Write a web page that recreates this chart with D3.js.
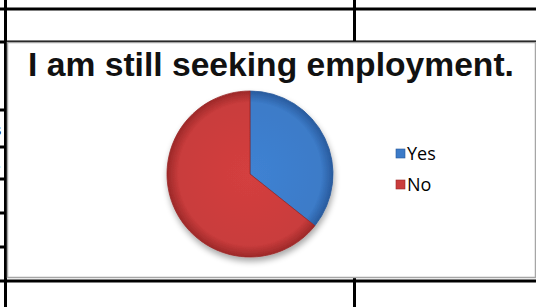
<!DOCTYPE html>
<html>
  <head>
    <title>Seeking employment</title>
    <script src="https://d3js.org/d3.v7.min.js"></script>
    <style>
      body { margin: 0; background: #fff; }
    </style>
  </head>

  <body>
    <svg id="plot" width="536" height="307"></svg>

    <script>
      // data
      var categories = ["Yes", "No"];
      var values = [5, 9];
      var colors = ["#3c7bc8", "#c93c3c"];
      var edgeColors = ["#27589a", "#992727"];
      var chartTitle = "I am still seeking employment.";

      const svg = d3.select("#plot");

      // table lines behind the chart
      var tbl = svg.append("g").attr("stroke", "#000").attr("stroke-width", 3);
      [9, 42, 110, 147, 179, 213, 247, 281].forEach(function (y) {
        tbl.append("line").attr("x1", 0).attr("x2", 536).attr("y1", y).attr("y2", y);
      });
      tbl.append("line").attr("x1", 5.5).attr("x2", 5.5).attr("y1", 0).attr("y2", 307);
      tbl.append("line").attr("x1", 354.5).attr("x2", 354.5).attr("y1", 0).attr("y2", 307);
      svg.append("text").attr("x", -5).attr("y", 135).style("font", "16px 'Liberation Serif'").text("s");
      svg.append("text").attr("x", -3).attr("y", 168).style("font", "16px 'Liberation Serif'").text(".");

      // chart area
      svg.append("rect")
        .attr("x", 7.5).attr("y", 42.5).attr("width", 528).attr("height", 235)
        .attr("fill", "#fff").attr("stroke", "#a6a6a6").attr("stroke-width", 1.5);

      var title = svg.append("text")
        .attr("x", 271).attr("y", 76)
        .attr("text-anchor", "middle")
        .style("font-family", "'Liberation Sans', Arial, sans-serif")
        .style("font-weight", "bold")
        .style("font-size", "29px")
        .attr("fill", "#111")
        .text(chartTitle);
      // fit title to the width seen in the picture
      var tw = title.node().getComputedTextLength();
      title.style("font-size", (29 * 486 / tw).toFixed(2) + "px");

      // gradients
      var defs = svg.append("defs");
      categories.forEach(function (c, i) {
        var g = defs.append("radialGradient").attr("id", "grad" + i)
          .attr("gradientUnits", "userSpaceOnUse")
          .attr("cx", 0).attr("cy", 0).attr("r", 84);
        g.append("stop").attr("offset", "0%").attr("stop-color", d3.color(colors[i]).brighter(0.15));
        g.append("stop").attr("offset", "85%").attr("stop-color", colors[i]);
        g.append("stop").attr("offset", "100%").attr("stop-color", edgeColors[i]);
      });
      var f = defs.append("filter").attr("id", "shadow")
        .attr("x", "-20%").attr("y", "-20%").attr("width", "140%").attr("height", "140%");
      f.append("feGaussianBlur").attr("in", "SourceAlpha").attr("stdDeviation", 3);
      f.append("feOffset").attr("dx", 1).attr("dy", 4).attr("result", "b");
      f.append("feComponentTransfer").append("feFuncA").attr("type", "linear").attr("slope", 0.35);
      var m = f.append("feMerge");
      m.append("feMergeNode");
      m.append("feMergeNode").attr("in", "SourceGraphic");

      // pie
      var radius = 83;
      var pie = d3.pie().sort(null).value((d) => d);
      var arc = d3.arc().innerRadius(0).outerRadius(radius);

      var g = svg.append("g")
        .attr("transform", "translate(250,174)")
        .attr("filter", "url(#shadow)");

      g.selectAll("path")
        .data(pie(values))
        .join("path")
        .attr("d", arc)
        .attr("fill", (d, i) => "url(#grad" + i + ")")
        .attr("stroke", (d, i) => edgeColors[i])
        .attr("stroke-width", 0.8);

      // legend
      var legend = svg.append("g").attr("transform", "translate(396,149)");
      var item = legend.selectAll("g")
        .data(categories)
        .join("g")
        .attr("transform", (d, i) => "translate(0," + i * 31 + ")");
      item.append("rect")
        .attr("width", 9).attr("height", 9)
        .attr("fill", (d, i) => colors[i])
        .attr("stroke", (d, i) => edgeColors[i])
        .attr("stroke-width", 0.6);
      item.append("text")
        .attr("x", 11).attr("y", 11)
        .style("font-family", "'Open Sans', sans-serif")
        .style("font-size", "18px")
        .attr("fill", "#000")
        .text((d) => d);
    </script>
  </body>
</html>
